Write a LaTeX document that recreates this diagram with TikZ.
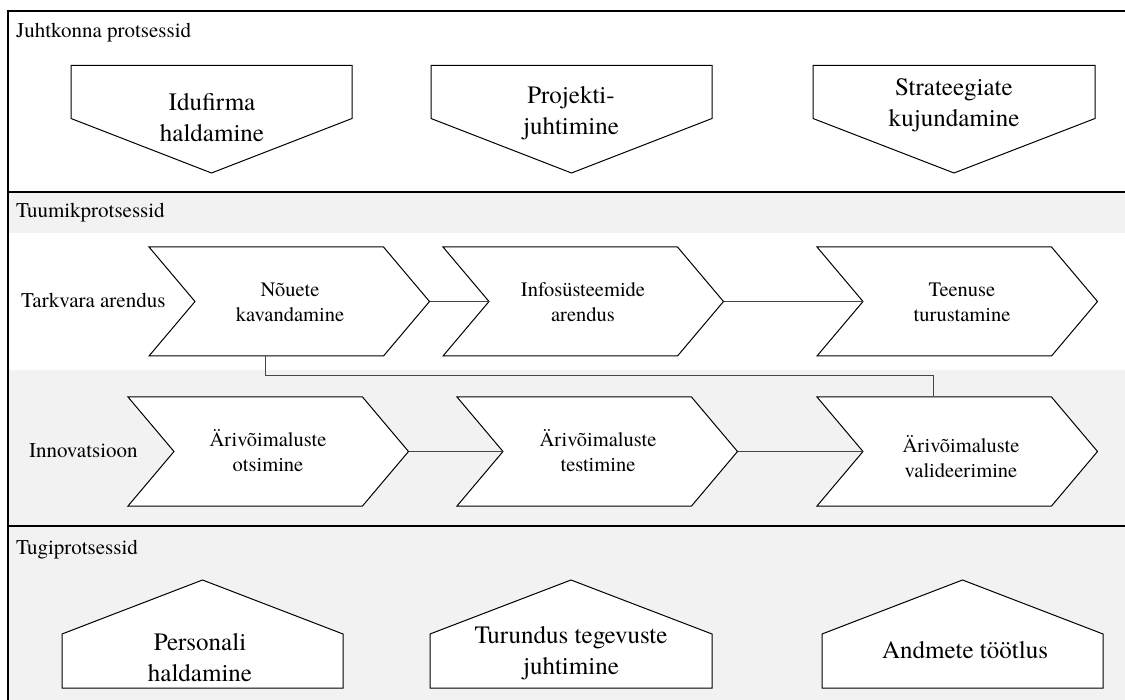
\documentclass[tikz,border=0pt]{standalone}
\usepackage{fontspec}
\IfFontExistsTF{texgyretermes-regular.otf}
  {\setmainfont{texgyretermes-regular.otf}}
  {\setmainfont{Liberation Serif}}
\definecolor{bandgray}{RGB}{242,242,242}
\definecolor{connline}{RGB}{70,70,70}
% two centred lines whose reference point is the first baseline
\newcommand\twoline[2]{\begin{tabular}[t]{@{}c@{}}#1\\#2\end{tabular}}
\begin{document}
\begin{tikzpicture}[x=1pt,y=-1pt,
  frameline/.style={line width=1.3pt,black},
  shapeline/.style={line width=1pt,black,fill=white,line join=miter},
  conn/.style={line width=0.9pt,connline},
  lbl/.style={anchor=base west,inner sep=0pt,font=\fontsize{21}{25}\selectfont},
  chevtext/.style={anchor=base,inner sep=0pt,font=\fontsize{20.5}{24.5}\selectfont},
  bigtext/.style={anchor=base,inner sep=0pt,font=\fontsize{25}{31}\selectfont}]

\useasboundingbox (0,0) rectangle (1125,700);
\clip (0,0) rectangle (1125,700);

% chevron: name, left x, top y
\newcommand\chevron[3]{%
  \path (#2,#3) coordinate (#1-nw) ++(234.5,0) coordinate (#1-ne)
        ++(46,54.5) coordinate (#1-tip) ++(-46,54.5) coordinate (#1-se)
        ++(-234.5,0) coordinate (#1-sw) ++(46,-54.5) coordinate (#1-notch);
  \path (#1-nw) ++(116.5,0) coordinate (#1-n);
  \path (#1-sw) ++(116.5,0) coordinate (#1-s);
  \draw[shapeline] (#1-nw) -- (#1-ne) -- (#1-tip) -- (#1-se) -- (#1-sw) -- (#1-notch) -- cycle;}
% downward pentagon: name, left x, right x
\newcommand\downpent[3]{%
  \path (#2,65.5) coordinate (#1-nw) (#3,65.5) coordinate (#1-ne)
        (#3,118.5) coordinate (#1-e) ({(#2+#3)/2},173) coordinate (#1-tip)
        (#2,118.5) coordinate (#1-w);
  \draw[shapeline] (#1-nw) -- (#1-ne) -- (#1-e) -- (#1-tip) -- (#1-w) -- cycle;}
% house pentagon: name, left x, right x
\newcommand\housepent[3]{%
  \path (#2,688) coordinate (#1-sw) (#3,688) coordinate (#1-se)
        (#3,634) coordinate (#1-e) ({(#2+#3)/2},580) coordinate (#1-apex)
        (#2,634) coordinate (#1-w);
  \draw[shapeline] (#1-sw) -- (#1-se) -- (#1-e) -- (#1-apex) -- (#1-w) -- cycle;}

% bands
\fill[bandgray] (8,192) rectangle (1140,233);
\fill[bandgray] (8,370) rectangle (1140,710);

% frame and section rules
\draw[frameline] (8,11) rectangle (1140,710);
\draw[frameline] (8,192) -- (1140,192);
\draw[frameline] (8,526) -- (1140,526);

% section labels
\node[lbl] (juht) at (16,38) {Juhtkonna protsessid};
\node[lbl] (tuum) at (16,218) {Tuumikprotsessid};
\node[lbl] (tark) at (21,308) {Tarkvara arendus};
\node[lbl] (inno) at (29,458) {Innovatsioon};
\node[lbl] (tugi) at (16,554) {Tugiprotsessid};

% management processes
\downpent{idu}{71}{352}
\downpent{pro}{431}{712}
\downpent{str}{813}{1095}
\node[bigtext] (idut) at (212,111) {\twoline{Idufirma}{haldamine}};
\node[bigtext] (prot) at (571,104) {\twoline{Projekti-}{juhtimine}};
\node[bigtext] (strt) at (954,96) {\twoline{Strateegiate}{kujundamine}};

% core processes
\chevron{nk}{149}{247}
\chevron{ia}{443}{247}
\chevron{tt}{817}{247}
\chevron{ao}{128}{397}
\chevron{at}{457}{397}
\chevron{av}{817}{397}

\draw[conn] (nk-tip) -- (ia-notch);
\draw[conn] (ia-tip) -- (tt-notch);
\draw[conn] (ao-tip) -- (at-notch);
\draw[conn] (at-tip) -- (av-notch);
\draw[conn] (nk-s) -- ++(0,19) -| (av-n);

\node[chevtext] (nkt) at (290,297) {\twoline{Nõuete}{kavandamine}};
\node[chevtext] (iat) at (583,297) {\twoline{Infosüsteemide}{arendus}};
\node[chevtext] (ttt) at (962,297) {\twoline{Teenuse}{turustamine}};
\node[chevtext] (aot) at (268,447) {\twoline{Ärivõimaluste}{otsimine}};
\node[chevtext] (att) at (598,447) {\twoline{Ärivõimaluste}{testimine}};
\node[chevtext] (avt) at (961,453) {\twoline{Ärivõimaluste}{valideerimine}};

% support processes
\housepent{per}{62}{343}
\housepent{tur}{430}{712}
\housepent{and}{822}{1103}
\node[bigtext] (pert) at (200,650) {\twoline{Personali}{haldamine}};
\node[bigtext] (turt) at (571,643) {\twoline{Turundus tegevuste}{juhtimine}};
\node[bigtext] (andt) at (965,658) {Andmete töötlus};
\end{tikzpicture}
\end{document}
